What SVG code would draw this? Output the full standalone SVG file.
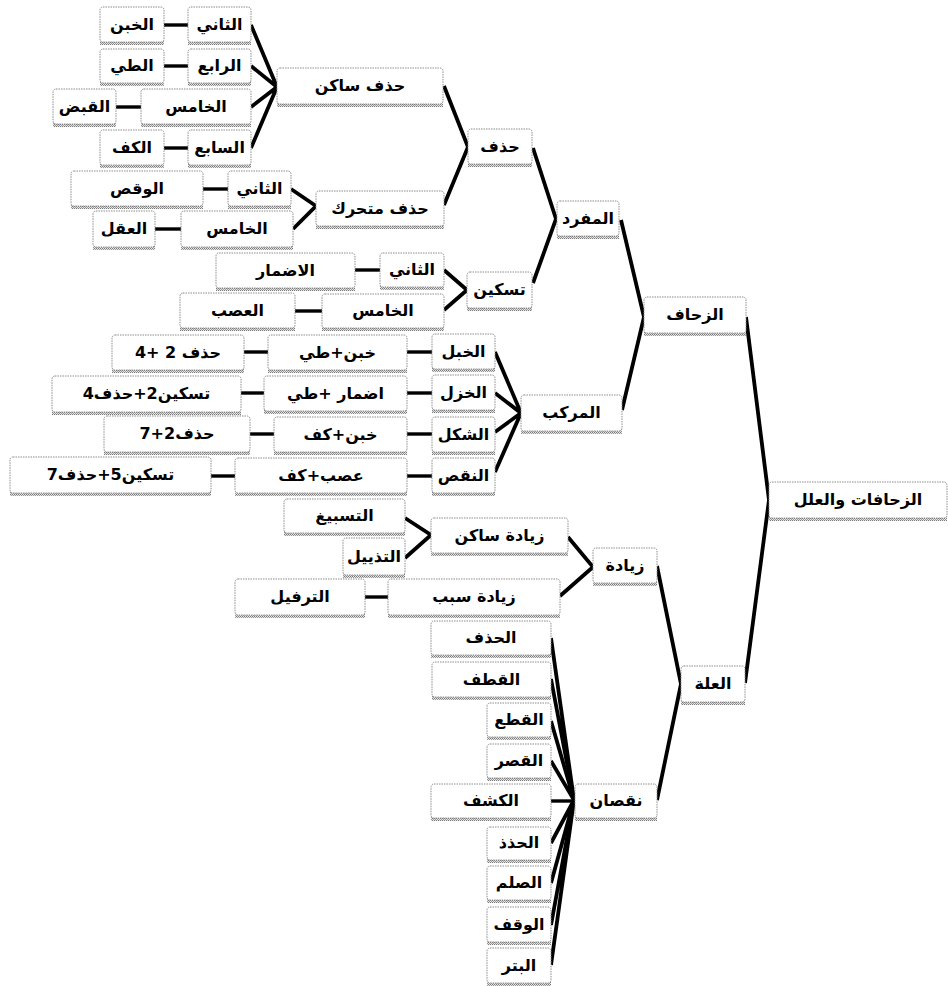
<svg xmlns="http://www.w3.org/2000/svg" width="948" height="986" viewBox="0 0 948 986">
<defs>
<pattern id="dots" width="2" height="2" patternUnits="userSpaceOnUse"><rect width="2" height="2" fill="#e6e6e6"/><rect width="1" height="1" fill="#7a7a7a"/><rect x="1" y="1" width="1" height="1" fill="#9a9a9a"/></pattern>
</defs>
<style>
.sh{fill:url(#dots)}
.bx{fill:#fff;stroke:#8c8c8c;stroke-width:1;stroke-dasharray:1.5 1}
.t{font-family:"DejaVu Sans",sans-serif;font-weight:bold;font-size:16px;fill:#000;text-anchor:middle}
.c{fill:none;stroke:#000;stroke-width:3.8;stroke-linejoin:miter;stroke-linecap:butt}
.h{fill:none;stroke:#000;stroke-width:3.4}
</style>
<rect width="948" height="986" fill="#fff"/>
<g id="connectors">
<polyline class="c" points="251,25 277,87 251,66"/>
<polyline class="c" points="251,107 277,87 251,148"/>
<polyline class="c" points="291,189 316,206 293,229"/>
<polyline class="c" points="444,86 468,147 444,205"/>
<polyline class="c" points="533,148 556,219 533,283"/>
<polyline class="c" points="621,220 644,317 622,410"/>
<polyline class="c" points="746,317 769,500 745,683"/>
<polyline class="c" points="444,270 467,290 444,310"/>
<polyline class="c" points="495,352 521,413 495,393"/>
<polyline class="c" points="495,432 521,413 495,472"/>
<polyline class="c" points="405,518 431,535 405,558"/>
<polyline class="c" points="568,537 593,567 560,596"/>
<polyline class="c" points="657,566 681,684 657,800"/>
<polyline class="c" points="551,638 574,800 551,679"/>
<polyline class="c" points="551,721 574,800 551,761"/>
<polyline class="c" points="551,843 574,800 551,883"/>
<polyline class="c" points="551,925 574,800 551,965"/>
<line class="h" x1="164" y1="25" x2="188" y2="25"/>
<line class="h" x1="164" y1="66" x2="188" y2="66"/>
<line class="h" x1="116" y1="107" x2="141" y2="107"/>
<line class="h" x1="164" y1="148" x2="188" y2="148"/>
<line class="h" x1="203" y1="189" x2="228" y2="189"/>
<line class="h" x1="155" y1="229" x2="181" y2="229"/>
<line class="h" x1="355" y1="270" x2="380" y2="270"/>
<line class="h" x1="295" y1="311" x2="322" y2="311"/>
<line class="h" x1="407" y1="352" x2="432" y2="352"/>
<line class="h" x1="244" y1="352" x2="268" y2="352"/>
<line class="h" x1="407" y1="393" x2="432" y2="393"/>
<line class="h" x1="241" y1="393" x2="264" y2="393"/>
<line class="h" x1="407" y1="434" x2="432" y2="434"/>
<line class="h" x1="250" y1="434" x2="274" y2="434"/>
<line class="h" x1="407" y1="476" x2="432" y2="476"/>
<line class="h" x1="211" y1="476" x2="235" y2="476"/>
<line class="h" x1="365" y1="597" x2="388" y2="597"/>
<line class="h" x1="551" y1="801" x2="575" y2="801"/>
</g>
<g id="n1"><rect class="sh" x="188" y="10" width="63" height="35"/><rect class="bx" x="188" y="7" width="63" height="35" rx="3"/><text class="t" x="219.5" y="30">الثاني</text></g>
<g id="n2"><rect class="sh" x="100" y="10" width="64" height="35"/><rect class="bx" x="100" y="7" width="64" height="35" rx="3"/><text class="t" x="132" y="30">الخبن</text></g>
<g id="n3"><rect class="sh" x="188" y="52" width="63" height="34"/><rect class="bx" x="188" y="49" width="63" height="34" rx="3"/><text class="t" x="219.5" y="71">الرابع</text></g>
<g id="n4"><rect class="sh" x="100" y="52" width="64" height="34"/><rect class="bx" x="100" y="49" width="64" height="34" rx="3"/><text class="t" x="132" y="71">الطي</text></g>
<g id="n5"><rect class="sh" x="141" y="92" width="110" height="35"/><rect class="bx" x="141" y="89" width="110" height="35" rx="3"/><text class="t" x="196" y="112">الخامس</text></g>
<g id="n6"><rect class="sh" x="53" y="92" width="63" height="35"/><rect class="bx" x="53" y="89" width="63" height="35" rx="3"/><text class="t" x="84.5" y="112">القبض</text></g>
<g id="n7"><rect class="sh" x="188" y="133" width="63" height="35"/><rect class="bx" x="188" y="130" width="63" height="35" rx="3"/><text class="t" x="219.5" y="153">السابع</text></g>
<g id="n8"><rect class="sh" x="100" y="133" width="64" height="35"/><rect class="bx" x="100" y="130" width="64" height="35" rx="3"/><text class="t" x="132" y="153">الكف</text></g>
<g id="n9"><rect class="sh" x="277" y="71" width="166" height="36"/><rect class="bx" x="277" y="68" width="166" height="36" rx="3"/><text class="t" x="360" y="91">حذف ساكن</text></g>
<g id="n10"><rect class="sh" x="228" y="174" width="63" height="35"/><rect class="bx" x="228" y="171" width="63" height="35" rx="3"/><text class="t" x="259.5" y="194">الثاني</text></g>
<g id="n11"><rect class="sh" x="71" y="174" width="132" height="35"/><rect class="bx" x="71" y="171" width="132" height="35" rx="3"/><text class="t" x="137" y="194">الوقص</text></g>
<g id="n12"><rect class="sh" x="181" y="214" width="112" height="36"/><rect class="bx" x="181" y="211" width="112" height="36" rx="3"/><text class="t" x="237" y="234">الخامس</text></g>
<g id="n13"><rect class="sh" x="93" y="214" width="62" height="36"/><rect class="bx" x="93" y="211" width="62" height="36" rx="3"/><text class="t" x="124" y="234">العقل</text></g>
<g id="n14"><rect class="sh" x="316" y="194" width="128" height="35"/><rect class="bx" x="316" y="191" width="128" height="35" rx="3"/><text class="t" x="380" y="214">حذف متحرك</text></g>
<g id="n15"><rect class="sh" x="468" y="132" width="64" height="35"/><rect class="bx" x="468" y="129" width="64" height="35" rx="3"/><text class="t" x="500" y="152">حذف</text></g>
<g id="n16"><rect class="sh" x="557" y="204" width="62" height="35"/><rect class="bx" x="557" y="201" width="62" height="35" rx="3"/><text class="t" x="588" y="224">المفرد</text></g>
<g id="n17"><rect class="sh" x="467" y="275" width="65" height="36"/><rect class="bx" x="467" y="272" width="65" height="36" rx="3"/><text class="t" x="499.5" y="295">تسكين</text></g>
<g id="n18"><rect class="sh" x="380" y="256" width="64" height="34"/><rect class="bx" x="380" y="253" width="64" height="34" rx="3"/><text class="t" x="412" y="275">الثاني</text></g>
<g id="n19"><rect class="sh" x="216" y="256" width="139" height="35"/><rect class="bx" x="216" y="253" width="139" height="35" rx="3"/><text class="t" x="285.5" y="276">الاضمار</text></g>
<g id="n20"><rect class="sh" x="322" y="297" width="122" height="34"/><rect class="bx" x="322" y="294" width="122" height="34" rx="3"/><text class="t" x="383" y="316">الخامس</text></g>
<g id="n21"><rect class="sh" x="180" y="296" width="115" height="35"/><rect class="bx" x="180" y="293" width="115" height="35" rx="3"/><text class="t" x="237.5" y="316">العصب</text></g>
<g id="n22"><rect class="sh" x="432" y="337" width="63" height="35"/><rect class="bx" x="432" y="334" width="63" height="35" rx="3"/><text class="t" x="463.5" y="357">الخبل</text></g>
<g id="n23"><rect class="sh" x="432" y="378" width="63" height="35"/><rect class="bx" x="432" y="375" width="63" height="35" rx="3"/><text class="t" x="463.5" y="398">الخزل</text></g>
<g id="n24"><rect class="sh" x="432" y="420" width="63" height="35"/><rect class="bx" x="432" y="417" width="63" height="35" rx="3"/><text class="t" x="463.5" y="440">الشكل</text></g>
<g id="n25"><rect class="sh" x="432" y="461" width="63" height="35"/><rect class="bx" x="432" y="458" width="63" height="35" rx="3"/><text class="t" x="463.5" y="481">النقص</text></g>
<g id="n26"><rect class="sh" x="521" y="398" width="101" height="36"/><rect class="bx" x="521" y="395" width="101" height="36" rx="3"/><text class="t" x="571.5" y="418">المركب</text></g>
<g id="n27"><rect class="sh" x="268" y="338" width="139" height="35"/><rect class="bx" x="268" y="335" width="139" height="35" rx="3"/><text class="t" x="337.5" y="358">خبن+طي</text></g>
<g id="n28"><rect class="sh" x="112" y="338" width="132" height="35"/><rect class="bx" x="112" y="335" width="132" height="35" rx="3"/><text class="t" x="178" y="358">حذف 2 +4</text></g>
<g id="n29"><rect class="sh" x="264" y="379" width="143" height="35"/><rect class="bx" x="264" y="376" width="143" height="35" rx="3"/><text class="t" x="335.5" y="399">اضمار +طي</text></g>
<g id="n30"><rect class="sh" x="52" y="379" width="189" height="36"/><rect class="bx" x="52" y="376" width="189" height="36" rx="3"/><text class="t" x="146.5" y="399">تسكين2+حذف4</text></g>
<g id="n31"><rect class="sh" x="274" y="420" width="133" height="35"/><rect class="bx" x="274" y="417" width="133" height="35" rx="3"/><text class="t" x="340.5" y="440">خبن+كف</text></g>
<g id="n32"><rect class="sh" x="104" y="419" width="146" height="36"/><rect class="bx" x="104" y="416" width="146" height="36" rx="3"/><text class="t" x="177" y="439">حذف2+7</text></g>
<g id="n33"><rect class="sh" x="235" y="461" width="172" height="35"/><rect class="bx" x="235" y="458" width="172" height="35" rx="3"/><text class="t" x="321" y="481">عصب+كف</text></g>
<g id="n34"><rect class="sh" x="10" y="460" width="201" height="36"/><rect class="bx" x="10" y="457" width="201" height="36" rx="3"/><text class="t" x="110.5" y="480">تسكين5+حذف7</text></g>
<g id="n35"><rect class="sh" x="644" y="300" width="102" height="36"/><rect class="bx" x="644" y="297" width="102" height="36" rx="3"/><text class="t" x="695" y="320">الزحاف</text></g>
<g id="n36"><rect class="sh" x="769" y="485" width="178" height="36"/><rect class="bx" x="769" y="482" width="178" height="36" rx="3"/><text class="t" x="858" y="505">الزحافات والعلل</text></g>
<g id="n37"><rect class="sh" x="593" y="551" width="64" height="35"/><rect class="bx" x="593" y="548" width="64" height="35" rx="3"/><text class="t" x="625" y="571">زيادة</text></g>
<g id="n38"><rect class="sh" x="681" y="669" width="64" height="36"/><rect class="bx" x="681" y="666" width="64" height="36" rx="3"/><text class="t" x="713" y="689">العلة</text></g>
<g id="n39"><rect class="sh" x="284" y="502" width="121" height="34"/><rect class="bx" x="284" y="499" width="121" height="34" rx="3"/><text class="t" x="344.5" y="521">التسبيغ</text></g>
<g id="n40"><rect class="sh" x="343" y="541" width="62" height="37"/><rect class="bx" x="343" y="538" width="62" height="37" rx="3"/><text class="t" x="374" y="562">التذييل</text></g>
<g id="n41"><rect class="sh" x="431" y="521" width="137" height="35"/><rect class="bx" x="431" y="518" width="137" height="35" rx="3"/><text class="t" x="499.5" y="541">زيادة ساكن</text></g>
<g id="n42"><rect class="sh" x="388" y="582" width="172" height="36"/><rect class="bx" x="388" y="579" width="172" height="36" rx="3"/><text class="t" x="474" y="602">زيادة سبب</text></g>
<g id="n43"><rect class="sh" x="235" y="582" width="130" height="36"/><rect class="bx" x="235" y="579" width="130" height="36" rx="3"/><text class="t" x="300" y="602">الترفيل</text></g>
<g id="n44"><rect class="sh" x="431" y="624" width="120" height="34"/><rect class="bx" x="431" y="621" width="120" height="34" rx="3"/><text class="t" x="491" y="643">الحذف</text></g>
<g id="n45"><rect class="sh" x="432" y="665" width="119" height="35"/><rect class="bx" x="432" y="662" width="119" height="35" rx="3"/><text class="t" x="491.5" y="685">القطف</text></g>
<g id="n46"><rect class="sh" x="487" y="706" width="64" height="34"/><rect class="bx" x="487" y="703" width="64" height="34" rx="3"/><text class="t" x="519" y="725">القطع</text></g>
<g id="n47"><rect class="sh" x="487" y="747" width="64" height="34"/><rect class="bx" x="487" y="744" width="64" height="34" rx="3"/><text class="t" x="519" y="766">القصر</text></g>
<g id="n48"><rect class="sh" x="431" y="787" width="120" height="34"/><rect class="bx" x="431" y="784" width="120" height="34" rx="3"/><text class="t" x="491" y="806">الكشف</text></g>
<g id="n49"><rect class="sh" x="575" y="787" width="82" height="34"/><rect class="bx" x="575" y="784" width="82" height="34" rx="3"/><text class="t" x="616" y="806">نقصان</text></g>
<g id="n50"><rect class="sh" x="487" y="830" width="64" height="33"/><rect class="bx" x="487" y="827" width="64" height="33" rx="3"/><text class="t" x="519" y="848">الحذذ</text></g>
<g id="n51"><rect class="sh" x="487" y="869" width="64" height="34"/><rect class="bx" x="487" y="866" width="64" height="34" rx="3"/><text class="t" x="519" y="888">الصلم</text></g>
<g id="n52"><rect class="sh" x="487" y="910" width="64" height="35"/><rect class="bx" x="487" y="907" width="64" height="35" rx="3"/><text class="t" x="519" y="930">الوقف</text></g>
<g id="n53"><rect class="sh" x="487" y="951" width="64" height="35"/><rect class="bx" x="487" y="948" width="64" height="35" rx="3"/><text class="t" x="519" y="971">البتر</text></g>
</svg>
